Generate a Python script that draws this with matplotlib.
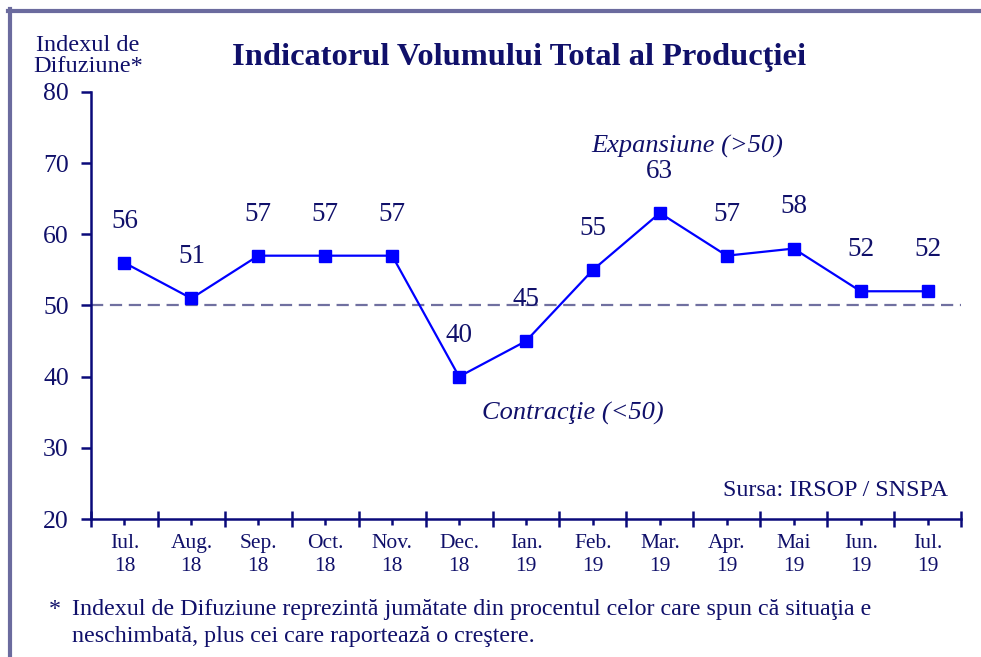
import matplotlib
matplotlib.use("Agg")
import matplotlib.pyplot as plt
from matplotlib.lines import Line2D
from matplotlib.ticker import FixedLocator, NullFormatter

months = ["Iul.", "Aug.", "Sep.", "Oct.", "Nov.", "Dec.", "Ian.", "Feb.", "Mar.", "Apr.", "Mai", "Iun.", "Iul."]
years = ["18", "18", "18", "18", "18", "18", "19", "19", "19", "19", "19", "19", "19"]
values = [56, 51, 57, 57, 57, 40, 45, 55, 63, 57, 58, 52, 52]
threshold = 50
yticks = [20, 30, 40, 50, 60, 70, 80]

TXT = "#10106a"
AX = "#0a0a7a"
LINE = "#0000ff"
DASH = "#7070a0"
BORDER = "#6b6b9e"

plt.rcParams["font.family"] = ["Liberation Serif", "DejaVu Serif"]

W, H = 981, 657
fig = plt.figure(figsize=(W / 100, H / 100), dpi=100)
ax = fig.add_axes([91 / W, 138 / H, (961 - 91) / W, (519 - 92) / H])

x = list(range(len(values)))
ax.set_xlim(-0.5, len(values) - 0.5)
ax.set_ylim(20, 80)

ax.axhline(threshold, color=DASH, lw=1.6, dashes=(5.5, 3), zorder=1)
ax.plot(x, values, color=LINE, lw=1.6, marker="s", markersize=8, zorder=3)

for i, v in enumerate(values):
    ax.annotate(str(v), (i, v), xytext=(0, 30), textcoords="offset points",
                ha="center", va="center", fontsize=19.5, color=TXT)

for s in ["top", "right"]:
    ax.spines[s].set_visible(False)
for s in ["left", "bottom"]:
    ax.spines[s].set_color(AX)
    ax.spines[s].set_linewidth(1.8)

ax.set_yticks(yticks)
ax.set_yticklabels([str(t) for t in yticks])
ax.tick_params(axis="y", direction="out", length=7, width=1.8, color=AX,
               labelsize=18.5, labelcolor=TXT, pad=9)

# x: major ticks at boundaries, minor at centers carrying labels
ax.xaxis.set_major_locator(FixedLocator([i - 0.5 for i in range(len(values) + 1)]))
ax.xaxis.set_major_formatter(NullFormatter())
ax.xaxis.set_minor_locator(FixedLocator(x))
ax.set_xticklabels([f"{m}\n{y}" for m, y in zip(months, years)], minor=True)
ax.tick_params(axis="x", which="major", direction="inout", length=12, width=1.8, color=AX)
ax.tick_params(axis="x", which="minor", direction="out", length=4, width=1.8, color=AX,
               labelsize=15.5, labelcolor=TXT, pad=7)
for lbl in ax.xaxis.get_minorticklabels():
    lbl.set_linespacing(1.25)

fig.text(519 / W, 1 - 57 / H, "Indicatorul Volumului Total al Producţiei",
         ha="center", va="center", fontsize=23.4, fontweight="bold", color=TXT)
fig.text(88 / W, 1 - 56 / H, "Indexul de\nDifuziune*", ha="center", va="center",
         fontsize=17.5, color=TXT, linespacing=1.0)
fig.text(687 / W, 1 - 146 / H, "Expansiune (>50)", ha="center", va="center",
         fontsize=19, style="italic", color=TXT)
fig.text(573 / W, 1 - 413 / H, "Contracţie (<50)", ha="center", va="center",
         fontsize=19, style="italic", color=TXT)
fig.text(948 / W, 1 - 491 / H, "Sursa: IRSOP / SNSPA", ha="right", va="center",
         fontsize=17.3, color=TXT)
fig.text(49 / W, 1 - 615 / H, "*", ha="left", va="baseline", fontsize=17.3, color=TXT)
fig.text(72 / W, 1 - 615 / H,
         "Indexul de Difuziune reprezintă jumătate din procentul celor care spun că situaţia e",
         ha="left", va="baseline", fontsize=17.3, color=TXT)
fig.text(72 / W, 1 - 642 / H,
         "neschimbată, plus cei care raportează o creştere.",
         ha="left", va="baseline", fontsize=17.3, color=TXT)

# frame
fig.add_artist(Line2D([8 / W, 1.0], [1 - 11 / H, 1 - 11 / H], color=BORDER, lw=3,
                      transform=fig.transFigure))
fig.add_artist(Line2D([10 / W, 10 / W], [1 - 9 / H, 0.0], color=BORDER, lw=3,
                      transform=fig.transFigure))

fig.savefig("out.png", dpi=100)
